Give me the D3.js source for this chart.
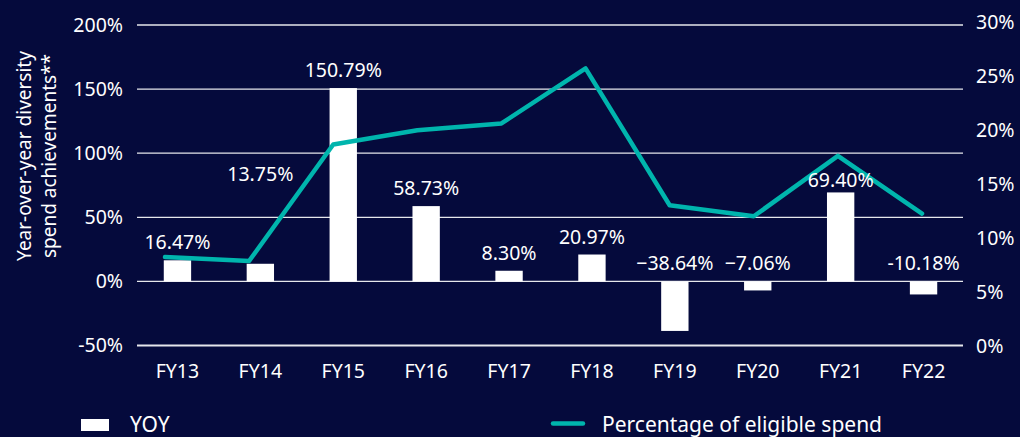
<!DOCTYPE html>
<html>
<head>
<meta charset="utf-8">
<script src="https://cdn.jsdelivr.net/npm/d3@7"></script>
<style>
  html, body { margin: 0; padding: 0; background: #050a3c; }
  svg text { font-family: "Noto Sans", "Open Sans", sans-serif; fill: #ffffff; }
</style>
</head>
<body>
<script>
// fiscal years
var years = ["FY13", "FY14", "FY15", "FY16", "FY17", "FY18", "FY19", "FY20", "FY21", "FY22"];
// year-over-year diversity spend achievements, %
var yoy = [16.47, 13.75, 150.79, 58.73, 8.30, 20.97, -38.64, -7.06, 69.40, -10.18];
// labels as printed on the chart
var yoyLabels = ["16.47%", "13.75%", "150.79%", "58.73%", "8.30%", "20.97%", "\u221238.64%", "\u22127.06%", "69.40%", "-10.18%"];
// percentage of eligible spend, %
var eligible = [8.27, 7.9, 18.68, 20.0, 20.62, 25.71, 13.06, 12.04, 17.62, 12.29];
// axis ticks
var leftTicks = [-50, 0, 50, 100, 150, 200];
var rightTicks = [0, 5, 10, 15, 20, 25, 30];

var W = 1020, H = 437;
var teal = "#00b5ad";
var fs = 19.5;

var svg = d3.select("body").append("svg")
  .attr("width", W)
  .attr("height", H);

// scales
var x = d3.scaleBand().domain(years).range([136, 965]).paddingInner(0.67).paddingOuter(0.335);
var xLine = d3.scalePoint().domain(years).range([165, 922]);
var yL = d3.scaleLinear().domain([-50, 200]).range([345.5, 25]);
var yR = d3.scaleLinear().domain([0, 30]).range([346.5, 22]);

// gridlines on left ticks
svg.append("g")
  .selectAll("line")
  .data(leftTicks)
  .enter()
  .append("line")
  .attr("x1", 137)
  .attr("x2", 963)
  .attr("y1", function(d){ return yL(d); })
  .attr("y2", function(d){ return yL(d); })
  .attr("stroke", "#ffffff")
  .attr("stroke-opacity", 0.9)
  .attr("stroke-width", function(d){ return d === -50 ? 2.2 : 1.3; });

// left axis labels
var axL = svg.append("g")
  .attr("transform", "translate(123,0)")
  .call(d3.axisLeft(yL).tickValues(leftTicks).tickSize(0).tickPadding(0)
    .tickFormat(function(d){ return d + "%"; }));
axL.select(".domain").remove();
axL.selectAll("text").attr("font-size", fs).attr("fill", "#fff")
  .attr("font-family", "'Noto Sans', sans-serif");

// right axis labels
var axR = svg.append("g")
  .attr("transform", "translate(976,0)")
  .call(d3.axisRight(yR).tickValues(rightTicks).tickSize(0).tickPadding(0)
    .tickFormat(function(d){ return d + "%"; }));
axR.select(".domain").remove();
axR.selectAll("text").attr("font-size", fs).attr("fill", "#fff")
  .attr("font-family", "'Noto Sans', sans-serif");

// x axis labels
var axX = svg.append("g")
  .attr("transform", "translate(0,364)")
  .call(d3.axisBottom(x).tickSize(0).tickPadding(0));
axX.select(".domain").remove();
axX.selectAll("text").attr("font-size", fs).attr("fill", "#fff")
  .attr("font-family", "'Noto Sans', sans-serif");

// bars
svg.append("g")
  .selectAll("rect")
  .data(yoy)
  .enter()
  .append("rect")
  .attr("x", function(d, i){ return x(years[i]); })
  .attr("width", x.bandwidth())
  .attr("y", function(d){ return yL(Math.max(d, 0)); })
  .attr("height", function(d){ return Math.abs(yL(d) - yL(0)); })
  .attr("fill", "#ffffff");

// line
var line = d3.line()
  .x(function(d, i){ return xLine(years[i]); })
  .y(function(d){ return yR(d); });
svg.append("path")
  .datum(eligible)
  .attr("d", line)
  .attr("fill", "none")
  .attr("stroke", teal)
  .attr("stroke-width", 4.5)
  .attr("stroke-linejoin", "round")
  .attr("stroke-linecap", "round");

// data labels: just above the bar (or above zero for negatives); FY14 is lifted clear of the line
var labelLift = { FY14: 72, FY21: -6 };
svg.append("g")
  .selectAll("text")
  .data(yoy)
  .enter()
  .append("text")
  .attr("x", function(d, i){ return x(years[i]) + x.bandwidth() / 2; })
  .attr("y", function(d, i){ return yL(Math.max(d, 0)) - 11 - (labelLift[years[i]] || 0); })
  .attr("text-anchor", "middle")
  .attr("font-size", fs)
  .text(function(d, i){ return yoyLabels[i]; });

// y axis title
svg.append("text")
  .attr("transform", "translate(31,156) rotate(-90)")
  .attr("text-anchor", "middle")
  .attr("font-size", 19)
  .selectAll("tspan")
  .data(["Year-over-year diversity", "spend achievements**"])
  .enter()
  .append("tspan")
  .attr("x", 0)
  .attr("dy", function(d, i){ return i === 0 ? 0 : 25; })
  .text(function(d){ return d; });

// legend
svg.append("rect")
  .attr("x", 81).attr("y", 419)
  .attr("width", 28).attr("height", 12)
  .attr("fill", "#ffffff");
svg.append("text")
  .attr("x", 130).attr("y", 432)
  .attr("font-size", 21)
  .text("YOY");
svg.append("line")
  .attr("x1", 553).attr("x2", 583)
  .attr("y1", 423.5).attr("y2", 423.5)
  .attr("stroke", teal)
  .attr("stroke-width", 4.5)
  .attr("stroke-linecap", "round");
svg.append("text")
  .attr("x", 602).attr("y", 432)
  .attr("font-size", 21)
  .text("Percentage of eligible spend");
</script>
</body>
</html>
